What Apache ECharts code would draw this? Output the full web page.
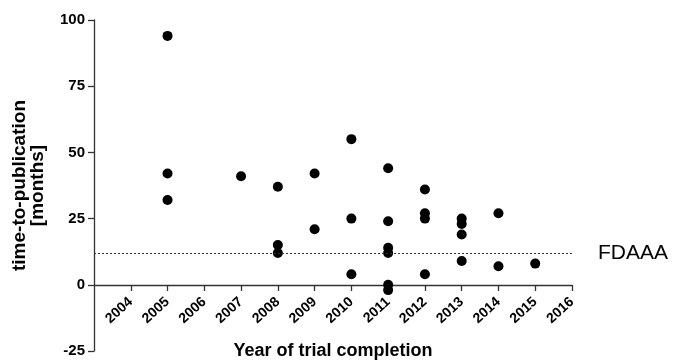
<!DOCTYPE html>
<html>
<head>
<meta charset="utf-8">
<script src="https://cdn.jsdelivr.net/npm/echarts@6/dist/echarts.min.js"></script>
<style>
  html, body { margin: 0; padding: 0; background: #fff; }
  #chart { width: 676px; height: 360px; }
</style>
</head>
<body>
<div id="chart"></div>
<script>
// x categories (2003 only anchors the axis start at the y axis)
const years = ['2003', '2004', '2005', '2006', '2007', '2008', '2009', '2010', '2011', '2012', '2013', '2014', '2015', '2016']
// one entry per trial: year of completion, time-to-publication in months
const trialYears = ['2005', '2005', '2005', '2007', '2008', '2008', '2008', '2009', '2009',
  '2010', '2010', '2010', '2011', '2011', '2011', '2011', '2011', '2011',
  '2012', '2012', '2012', '2012', '2013', '2013', '2013', '2013', '2014', '2014', '2015']
const months = [94, 42, 32, 41, 37, 15, 12, 42, 21,
  55, 25, 4, 44, 24, 14, 12, 0, -2,
  36, 27, 25, 4, 25, 23, 19, 9, 27, 7, 8]
const fdaaaLimit = 12

const chart = echarts.init(document.getElementById('chart'))
const font = 'Liberation Sans, Arial, sans-serif'

const option = {
  animation: false,
  grid: {
    left: 94,
    right: 104,
    top: 20,
    bottom: 9,
    outerBoundsMode: 'none',
    containLabel: false,
  },
  xAxis: {
    type: 'category',
    data: years,
    boundaryGap: false,
    position: 'bottom',
    offset: -66, // sit the axis on y = 0
    axisLine: {
      onZero: false,
      lineStyle: { color: '#333', width: 1.3 },
    },
    axisTick: {
      show: true,
      length: 6,
      interval: (i) => i > 0,
      lineStyle: { color: '#333', width: 1.3 },
    },
    axisLabel: {
      interval: (i) => i > 0,
      rotate: 42,
      margin: 15,
      color: '#000',
      fontFamily: font,
      fontWeight: 'bold',
      fontSize: 14,
      formatter: (v) => v === '2003' ? '' : v,
    },
    splitLine: { show: false },
    name: 'Year of trial completion',
    nameLocation: 'middle',
    nameGap: 57,
    nameTextStyle: {
      color: '#000',
      fontFamily: font,
      fontWeight: 'bold',
      fontSize: 18,
    },
  },
  yAxis: {
    type: 'value',
    min: -25,
    max: 100,
    interval: 25,
    axisLine: {
      show: true,
      lineStyle: { color: '#333', width: 1.3 },
    },
    axisTick: {
      show: true,
      length: 6,
      lineStyle: { color: '#333', width: 1.3 },
    },
    axisLabel: {
      margin: 9,
      color: '#000',
      fontFamily: font,
      fontWeight: 'bold',
      fontSize: 15,
    },
    splitLine: { show: false },
    name: 'time-to-publication\n[months]',
    nameLocation: 'middle',
    nameGap: 47,
    nameTextStyle: {
      color: '#000',
      fontFamily: font,
      fontWeight: 'bold',
      fontSize: 19,
      lineHeight: 18,
    },
  },
  series: [
    {
      type: 'scatter',
      symbol: 'circle',
      symbolSize: 10,
      itemStyle: { color: '#000', opacity: 1 },
      data: trialYears.map((y, i) => [y, months[i]]),
      markLine: {
        silent: true,
        symbol: 'none',
        lineStyle: { color: '#333', type: [2, 2], width: 1 },
        label: {
          position: 'end',
          distance: 26,
          color: '#000',
          fontFamily: font,
          fontSize: 21,
          formatter: 'FDAAA',
        },
        data: [{ yAxis: fdaaaLimit }],
      },
    },
  ],
}

chart.setOption(option)
</script>
</body>
</html>
